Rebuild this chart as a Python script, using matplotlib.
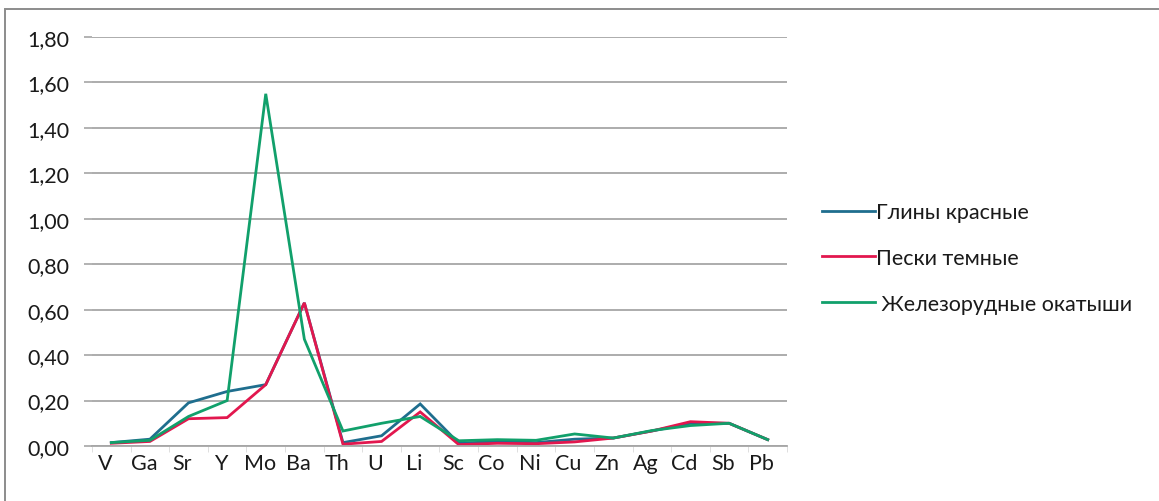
import matplotlib
matplotlib.use("Agg")
import matplotlib.pyplot as plt
import matplotlib.transforms as mtransforms
from matplotlib.patches import Rectangle

plt.rcParams['font.family'] = ['Lato', 'DejaVu Sans']

elements = ["V", "Ga", "Sr", "Y", "Mo", "Ba", "Th", "U", "Li", "Sc",
            "Co", "Ni", "Cu", "Zn", "Ag", "Cd", "Sb", "Pb"]

clay_red = [0.015, 0.03, 0.19, 0.24, 0.27, 0.63, 0.015, 0.045, 0.185, 0.012,
            0.02, 0.015, 0.03, 0.035, 0.066, 0.10, 0.10, 0.028]
sand_dark = [0.012, 0.02, 0.12, 0.125, 0.27, 0.63, 0.008, 0.02, 0.15, 0.006,
             0.012, 0.01, 0.018, 0.035, 0.066, 0.107, 0.10, 0.028]
iron_pellets = [0.015, 0.025, 0.13, 0.20, 1.55, 0.47, 0.066, 0.10, 0.13, 0.023,
                0.028, 0.025, 0.053, 0.035, 0.068, 0.09, 0.10, 0.028]

series_names = ["Глины красные", "Пески темные", " Железорудные окатыши"]
colors = ["#1F6E8E", "#E2174E", "#11A06B"]

y_ticks = [0.0, 0.2, 0.4, 0.6, 0.8, 1.0, 1.2, 1.4, 1.6, 1.8]

W, H = 1159, 502
fig = plt.figure(figsize=(W / 100, H / 100), dpi=100)
ax = fig.add_axes([92 / W, 1 - 447 / H, (787 - 92) / W, (447 - 38) / H])

x = list(range(len(elements)))
for vals, name, c in zip([clay_red, sand_dark, iron_pellets], series_names, colors):
    ax.plot(x, vals, color=c, lw=2.0, label=name, solid_joinstyle="miter")

ax.set_xlim(-0.5, len(elements) - 0.5)
ax.set_ylim(0, 1.8)
ax.set_yticks(y_ticks)
ax.set_yticklabels([f"{v:.2f}".replace(".", ",") for v in y_ticks])
ax.yaxis.grid(True, color="#A6A6A6", lw=1.3)
ax.set_axisbelow(True)

ax.set_xticks(x)
ax.set_xticklabels(elements)
ax.set_xticks([i + 0.5 for i in range(-1, len(elements))], minor=True)
ax.tick_params(axis="x", which="major", length=0, pad=5, labelsize=15.5, colors="#1A1A1A")
ax.tick_params(axis="x", which="minor", length=4, color="#D9D9D9")
ax.tick_params(axis="y", length=6, width=1.2, color="#A6A6A6", pad=10, labelsize=15.5,
               labelcolor="#1A1A1A")

shift = mtransforms.ScaledTranslation(-6 / 100, 0, fig.dpi_scale_trans)
for lbl in ax.get_xticklabels():
    lbl.set_transform(lbl.get_transform() + shift)

for side in ["top", "right", "left"]:
    ax.spines[side].set_visible(False)
ax.spines["bottom"].set_color("#A6A6A6")
ax.spines["bottom"].set_linewidth(1.3)

leg = ax.legend(loc="center left", bbox_to_anchor=(822 / W, 1 - 259 / H),
                bbox_transform=fig.transFigure, frameon=False, fontsize=15.5,
                handlelength=2.45, handletextpad=0.08, labelspacing=1.2,
                borderaxespad=0, borderpad=0)
for t in leg.get_texts():
    t.set_color("#1A1A1A")

fig.patches.append(Rectangle((5 / W, -0.05), 1.2, 1 - 10 / H + 0.05,
                             transform=fig.transFigure, fill=False,
                             edgecolor="#8C8C8C", lw=1.4))

fig.savefig("out.png", dpi=100, facecolor="white")
